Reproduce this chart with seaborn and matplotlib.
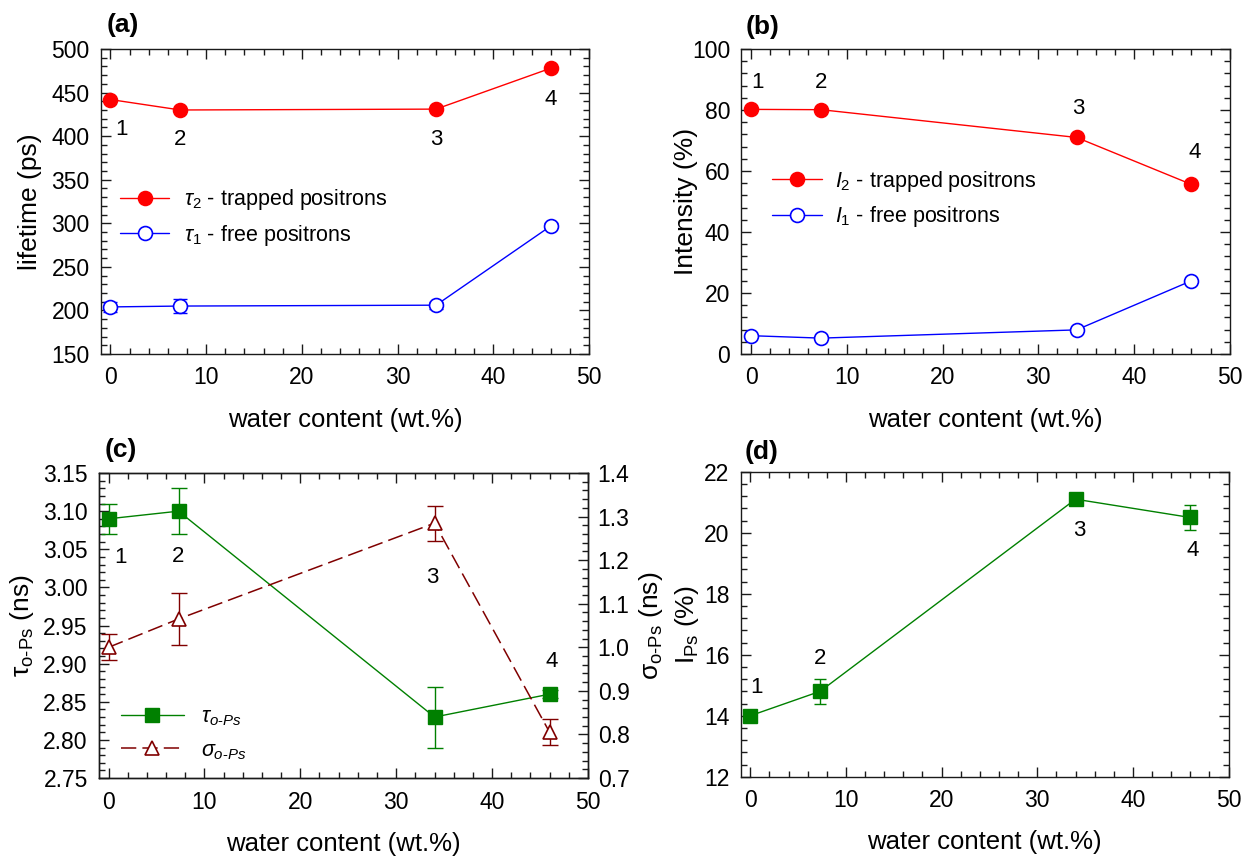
import matplotlib
matplotlib.use("Agg")
import matplotlib.pyplot as plt
import seaborn as sns
from matplotlib.ticker import MultipleLocator, FormatStrFormatter

# water content of the four samples (wt.%)
water = [0, 7.3, 34, 46]
sample_ids = ["1", "2", "3", "4"]

# (a) lifetimes (ps)
tau2 = [442, 430, 431, 478]
tau1 = [204, 205, 206, 297]
tau1_err = [6, 8, 4, 3]

# (b) intensities (%)
int2 = [80.2, 80.1, 71.0, 55.6]
int1 = [6.0, 5.2, 7.9, 24.0]

# (c) o-Ps lifetime and width (ns)
tau_ops = [3.09, 3.10, 2.83, 2.86]
tau_ops_err = [0.02, 0.03, 0.04, 0.005]
sigma_ops = [1.00, 1.065, 1.285, 0.805]
sigma_ops_err = [0.03, 0.06, 0.04, 0.03]

# (d) o-Ps intensity (%)
i_ps = [14.0, 14.8, 21.1, 20.5]
i_ps_err = [0.1, 0.4, 0.1, 0.4]

sns.set_style("ticks")
plt.rcParams["font.family"] = ["Liberation Sans", "DejaVu Sans"]
plt.rcParams["mathtext.fontset"] = "custom"
plt.rcParams["mathtext.rm"] = "Liberation Sans"
plt.rcParams["mathtext.it"] = "Liberation Sans:italic"
plt.rcParams["mathtext.bf"] = "Liberation Sans:bold"
plt.rcParams["axes.linewidth"] = 1.0
plt.rcParams["axes.edgecolor"] = "#1a1a1a"
for key in ["text.color", "axes.labelcolor", "xtick.color", "ytick.color"]:
    plt.rcParams[key] = "black"

TICK_FS = 16.5
XLABEL_FS = 18.5
YLABEL_FS = 19
NUM_FS = 16
TAG_FS = 19

fig = plt.figure(figsize=(12.51, 8.64), dpi=100)
ax_a = fig.add_axes([0.0806, 0.5903, 0.3904, 0.3530])
ax_b = fig.add_axes([0.5927, 0.5903, 0.3903, 0.3530])
ax_c = fig.add_axes([0.0791, 0.0995, 0.3909, 0.3530])
ax_d = fig.add_axes([0.5921, 0.1010, 0.3900, 0.3530])


def style_axis(ax, ylim, ymaj, ymin, yfmt=None, right=True):
    ax.set_xlim(-1, 50)
    ax.set_ylim(*ylim)
    ax.xaxis.set_major_locator(MultipleLocator(10))
    ax.xaxis.set_minor_locator(MultipleLocator(2))
    ax.yaxis.set_major_locator(MultipleLocator(ymaj))
    ax.yaxis.set_minor_locator(MultipleLocator(ymin))
    if yfmt:
        ax.yaxis.set_major_formatter(FormatStrFormatter(yfmt))
    ax.tick_params(which="both", direction="in", top=True, right=right,
                   color="#1a1a1a", width=1.0)
    ax.tick_params(which="major", length=7)
    ax.tick_params(which="minor", length=4)
    ax.tick_params(axis="x", labelsize=TICK_FS, pad=9)
    ax.tick_params(axis="y", labelsize=TICK_FS, pad=8)
    for s in ax.spines.values():
        s.set_visible(True)
    ax.set_xlabel("water content (wt.%)", fontsize=XLABEL_FS, labelpad=13)


def numbers(ax, ys, offsets):
    for x, y, n, (dx, dy) in zip(water, ys, sample_ids, offsets):
        ax.annotate(n, xy=(x, y), xytext=(dx, dy), textcoords="offset points",
                    ha="center", va="center", fontsize=NUM_FS)


# ---------- (a) ----------
ax = ax_a
ax.errorbar(water, tau1, yerr=tau1_err, fmt="none", ecolor="blue",
            elinewidth=1.0, capsize=5, capthick=1.0, zorder=2)
sns.lineplot(x=water, y=tau2, ax=ax, color="red", lw=1.0, marker="o",
             markersize=10, markeredgecolor="red", markerfacecolor="red",
             markeredgewidth=1.2, label=r"$\tau_2$ - trapped positrons", zorder=3)
sns.lineplot(x=water, y=tau1, ax=ax, color="blue", lw=1.0, marker="o",
             markersize=10, markeredgecolor="blue", markerfacecolor="white",
             markeredgewidth=1.2, label=r"$\tau_1$ - free positrons", zorder=3)
style_axis(ax, (150, 500), 50, 10)
ax.set_ylabel("lifetime (ps)", fontsize=YLABEL_FS, labelpad=7)
ax.legend(loc="center left", bbox_to_anchor=(0.039, 0.4475), frameon=False,
          fontsize=15.5, borderpad=0, borderaxespad=0, handlelength=2.3,
          handletextpad=0.67, labelspacing=0.5)
numbers(ax, tau2, [(8, -21.6), (0, -21.6), (0, -21.6), (0, -22.3)])
ax.text(0.012, 1.08, "(a)", transform=ax.transAxes, fontsize=TAG_FS,
        fontweight="bold", ha="left", va="center")

# ---------- (b) ----------
ax = ax_b
sns.lineplot(x=water, y=int2, ax=ax, color="red", lw=1.0, marker="o",
             markersize=10, markeredgecolor="red", markerfacecolor="red",
             markeredgewidth=1.2, label=r"$I_2$ - trapped positrons", zorder=3)
sns.lineplot(x=water, y=int1, ax=ax, color="blue", lw=1.0, marker="o",
             markersize=10, markeredgecolor="blue", markerfacecolor="white",
             markeredgewidth=1.2, label=r"$I_1$ - free positrons", zorder=3)
style_axis(ax, (0, 100), 20, 4)
ax.set_ylabel("Intensity (%)", fontsize=YLABEL_FS, labelpad=-4)
ax.legend(loc="center left", bbox_to_anchor=(0.0627, 0.508), frameon=False,
          fontsize=15.5, borderpad=0, borderaxespad=0, handlelength=2.3,
          handletextpad=0.62, labelspacing=0.48)
numbers(ax, int2, [(5, 19.4), (0, 19.4), (1, 20.9), (2, 23)])
ax.text(0.008, 1.073, "(b)", transform=ax.transAxes, fontsize=TAG_FS,
        fontweight="bold", ha="left", va="center")

# ---------- (c) ----------
ax = ax_c
ax2 = ax.twinx()
ax.errorbar(water, tau_ops, yerr=tau_ops_err, fmt="none", ecolor="green",
            elinewidth=1.0, capsize=5.5, capthick=1.0, zorder=2)
sns.lineplot(x=water, y=tau_ops, ax=ax, color="green", lw=1.0, marker="s",
             markersize=10, markeredgecolor="green", markerfacecolor="green",
             markeredgewidth=1.0, label=r"$\tau_{o\text{-}Ps}$", zorder=3)
ax2.errorbar(water, sigma_ops, yerr=sigma_ops_err, fmt="none", ecolor="#800000",
             elinewidth=1.0, capsize=5.5, capthick=1.0, zorder=2)
sns.lineplot(x=water, y=sigma_ops, ax=ax2, color="#800000", lw=1.1,
             marker="^", markersize=10, markeredgecolor="#800000",
             markerfacecolor="white", markeredgewidth=1.2, dashes=False,
             label=r"$\sigma_{o\text{-}Ps}$", zorder=3)
ax2.lines[-1].set_dashes((10, 4))
style_axis(ax, (2.75, 3.15), 0.05, 0.01, "%.2f", right=False)
ax2.set_ylim(0.7, 1.4)
ax2.yaxis.set_major_locator(MultipleLocator(0.1))
ax2.yaxis.set_minor_locator(MultipleLocator(0.02))
ax2.yaxis.set_major_formatter(FormatStrFormatter("%.1f"))
ax2.tick_params(which="both", direction="in", right=True, color="#1a1a1a",
                width=1.0, labelsize=TICK_FS, pad=7)
ax2.tick_params(which="major", length=7)
ax2.tick_params(which="minor", length=4)
ax.set_ylabel(r"$\mathrm{\tau}_{\text{o-Ps}}$ (ns)", fontsize=YLABEL_FS, labelpad=5)
ax2.set_ylabel(r"$\mathrm{\sigma}_{\text{o-Ps}}$ (ns)", fontsize=YLABEL_FS,
               labelpad=5, rotation=90)
h1, l1 = ax.get_legend_handles_labels()
h2, l2 = ax2.get_legend_handles_labels()
if ax2.get_legend():
    ax2.get_legend().remove()
ax.legend(h1 + h2, l1 + l2, loc="center left", bbox_to_anchor=(0.0446, 0.144),
          frameon=False, fontsize=15.5, borderpad=0, borderaxespad=0,
          handlelength=2.93, handletextpad=0.8, labelspacing=0.55)
for i, (dx, dy) in enumerate([(8.3, -28), (0, -33)]):
    ax.annotate(sample_ids[i], xy=(water[i], tau_ops[i]), xytext=(dx, dy),
                textcoords="offset points", ha="center", va="center", fontsize=NUM_FS)
ax2.annotate(sample_ids[2], xy=(water[2], sigma_ops[2]), xytext=(-1.4, -38.9),
             textcoords="offset points", ha="center", va="center", fontsize=NUM_FS)
ax.annotate(sample_ids[3], xy=(water[3], tau_ops[3]), xytext=(1.4, 23.8),
            textcoords="offset points", ha="center", va="center", fontsize=NUM_FS)
ax.text(0.012, 1.075, "(c)", transform=ax.transAxes, fontsize=TAG_FS,
        fontweight="bold", ha="left", va="center")

# ---------- (d) ----------
ax = ax_d
ax.errorbar(water, i_ps, yerr=i_ps_err, fmt="none", ecolor="green",
            elinewidth=1.0, capsize=4.6, capthick=1.0, zorder=2)
sns.lineplot(x=water, y=i_ps, ax=ax, color="green", lw=1.0, marker="s",
             markersize=10, markeredgecolor="green", markerfacecolor="green",
             markeredgewidth=1.0, zorder=3)
style_axis(ax, (12, 22), 2, 0.4)
ax.set_ylabel(r"$\mathrm{I}_{\mathrm{Ps}}$ (%)", fontsize=YLABEL_FS, labelpad=2)
numbers(ax, i_ps, [(4.3, 20.2), (0, 23.8), (2.9, -22.3), (1.4, -23.8)])
ax.text(0.007, 1.066, "(d)", transform=ax.transAxes, fontsize=TAG_FS,
        fontweight="bold", ha="left", va="center")

fig.savefig("out.png", dpi=100)
